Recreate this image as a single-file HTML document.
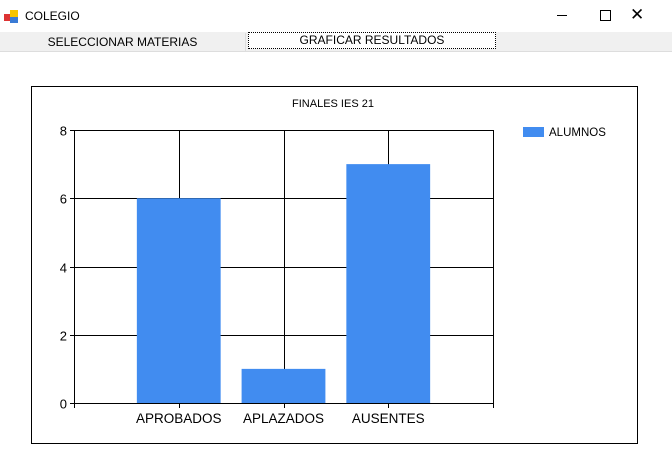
<!DOCTYPE html>
<html><head><meta charset="utf-8"><style>
body{margin:0;width:672px;height:475px;background:#fff;font-family:"Liberation Sans",Arial,sans-serif;overflow:hidden;position:relative}
.t{position:absolute;font-size:12px;color:#000}
</style></head><body>
<div style="position:absolute;left:0;top:0;width:672px;height:32px;background:#fff">
 <svg style="position:absolute;left:4px;top:9px" width="16" height="16"><rect x="0" y="5" width="6" height="7" fill="#d33"/><rect x="6" y="1" width="8" height="7" fill="#f5c400"/><rect x="6" y="8" width="8" height="6" fill="#3a7bd5"/></svg>
 <div class="t" style="left:25px;top:9px">COLEGIO</div>
 <div style="position:absolute;left:557px;top:15px;width:10px;height:1px;background:#000"></div>
 <div style="position:absolute;left:600px;top:10px;width:9px;height:9px;border:1px solid #000"></div>
 <div class="t" style="left:630px;top:5px;font-size:17px">✕</div>
</div>
<div style="position:absolute;left:0;top:32px;width:672px;height:19px;background:#f0f0f0;border-bottom:1px solid #ddd"></div>
<div class="t" style="left:0;top:33px;width:245px;height:18px;line-height:18px;text-align:center;border-right:1px solid #ddd">SELECCIONAR MATERIAS</div>
<div class="t" style="left:248px;top:32px;width:246px;height:15px;line-height:15px;text-align:center;background:#fff;border:1px dotted #000">GRAFICAR RESULTADOS</div>
<svg id="c" style="position:absolute;left:0;top:0" width="672" height="475"></svg>
<script>
const categories=["APROBADOS","APLAZADOS","AUSENTES"];
const values=[6,1,7];
const yTicks=[0,2,4,6,8];
const seriesName="ALUMNOS";
const chartTitle="FINALES IES 21";
const svg=document.getElementById('c');const NS="http://www.w3.org/2000/svg";
function mk(t,a,p){const e=document.createElementNS(NS,t);for(const k in a)e.setAttribute(k,a[k]);(p||svg).appendChild(e);return e;}
const x0=74,x1=493,y0=403,y1=130,yMax=8,n=categories.length;
const xs=v=>x0+(x1-x0)*v/(n+1);
const ys=v=>y0-(y0-y1)*v/yMax;
let e=mk('rect',{x:31.5,y:86.5,width:606,height:357,fill:'none',stroke:'#000'});

e=mk('text',{x:333,y:107,'font-size':11,'text-anchor':'middle','font-family':'Liberation Sans'});e.textContent=chartTitle;

yTicks.forEach(t=>{const y=Math.round(ys(t))+0.5;
 e=mk('line',{x1:x0-4,x2:x1,y1:y,y2:y,stroke:'#000'});
 
 e=mk('text',{x:x0-7,y:y+5,'font-size':13,'text-anchor':'end','font-family':'Liberation Sans'});e.textContent=t;
 });
for(let i=0;i<=n+1;i++){const x=Math.round(xs(i))+0.5;
 e=mk('line',{x1:x,x2:x,y1:y1,y2:y0+5,stroke:'#000'});
 }
const bw=(x1-x0)/(n+1)*0.8;
values.forEach((v,i)=>{const cx=xs(i+1);
 e=mk('rect',{x:cx-bw/2,y:ys(v),width:bw,height:y0-ys(v),fill:'#418cf0'});
 
 e=mk('text',{x:cx,y:y0+20,'font-size':13.5,'text-anchor':'middle','font-family':'Liberation Sans'});e.textContent=categories[i];
 });
e=mk('rect',{x:523,y:127,width:21,height:10,fill:'#418cf0'});

e=mk('text',{x:549,y:136,'font-size':11.5,'font-family':'Liberation Sans'});e.textContent=seriesName;

</script>
</body></html>
